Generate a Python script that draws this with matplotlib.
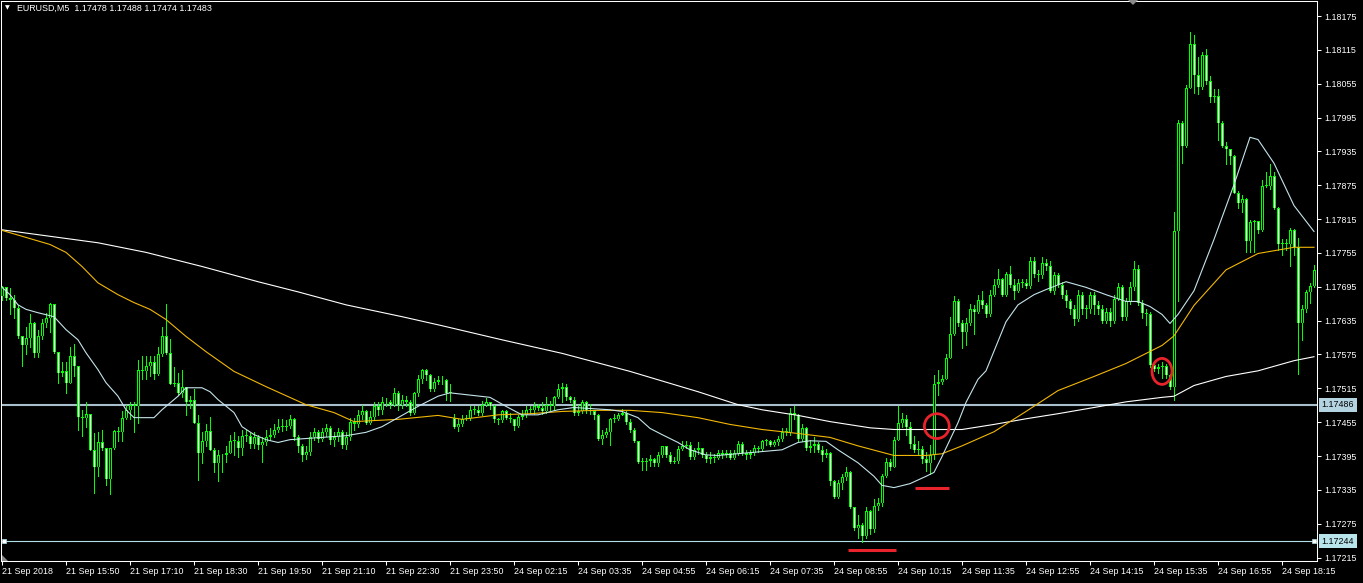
import numpy as np
import matplotlib
matplotlib.use("Agg")
import matplotlib.pyplot as plt
from matplotlib.patches import Ellipse, Polygon
from matplotlib.transforms import blended_transform_factory

plt.rcParams['font.family'] = ['Liberation Sans', 'DejaVu Sans']

# ---- data (EURUSD, M5) ----
symbol = "EURUSD,M5"
header_quote = "1.17478 1.17488 1.17474 1.17483"

first_open = 1.17679
monday_bar = 113          # first bar after the weekend gap
monday_open = 1.17463

close = [
    1.17694, 1.17676, 1.17672, 1.17658, 1.17607, 1.17591, 1.17605, 1.17630, 1.17578, 1.17607,
    1.17630, 1.17640, 1.17665, 1.17580, 1.17543, 1.17545, 1.17525, 1.17573, 1.17554, 1.17465,
    1.17463, 1.17470, 1.17406, 1.17375, 1.17419, 1.17410, 1.17355, 1.17410, 1.17440, 1.17438,
    1.17463, 1.17476, 1.17486, 1.17483, 1.17548, 1.17546, 1.17554, 1.17562, 1.17541, 1.17575,
    1.17607, 1.17578, 1.17523, 1.17525, 1.17507, 1.17518, 1.17491, 1.17495, 1.17454, 1.17401,
    1.17421, 1.17440, 1.17406, 1.17383, 1.17397, 1.17396, 1.17401, 1.17422, 1.17422, 1.17410,
    1.17431, 1.17431, 1.17417, 1.17429, 1.17415, 1.17419, 1.17429, 1.17433, 1.17442, 1.17447,
    1.17447, 1.17449, 1.17461, 1.17429, 1.17412, 1.17397, 1.17403, 1.17429, 1.17437, 1.17426,
    1.17437, 1.17445, 1.17424, 1.17428, 1.17437, 1.17415, 1.17429, 1.17456, 1.17451, 1.17468,
    1.17474, 1.17454, 1.17465, 1.17483, 1.17477, 1.17491, 1.17490, 1.17486, 1.17507, 1.17486,
    1.17495, 1.17490, 1.17472, 1.17506, 1.17531, 1.17548, 1.17538, 1.17514, 1.17527, 1.17529,
    1.17529, 1.17507, 1.17509, 1.17447, 1.17452, 1.17461, 1.17463, 1.17477, 1.17477, 1.17472,
    1.17486, 1.17490, 1.17483, 1.17460, 1.17458, 1.17474, 1.17463, 1.17460, 1.17449, 1.17465,
    1.17468, 1.17476, 1.17477, 1.17483, 1.17481, 1.17474, 1.17486, 1.17484, 1.17499, 1.17513,
    1.17518, 1.17499, 1.17495, 1.17472, 1.17474, 1.17491, 1.17477, 1.17474, 1.17468, 1.17426,
    1.17433, 1.17437, 1.17460, 1.17460, 1.17468, 1.17472, 1.17456, 1.17442, 1.17421, 1.17385,
    1.17385, 1.17387, 1.17389, 1.17382, 1.17397, 1.17412, 1.17397, 1.17385, 1.17387, 1.17408,
    1.17413, 1.17415, 1.17394, 1.17405, 1.17410, 1.17397, 1.17389, 1.17394, 1.17392, 1.17401,
    1.17397, 1.17401, 1.17392, 1.17401, 1.17417, 1.17401, 1.17396, 1.17401, 1.17410, 1.17408,
    1.17421, 1.17421, 1.17415, 1.17419, 1.17426, 1.17438, 1.17437, 1.17472, 1.17468, 1.17426,
    1.17444, 1.17410, 1.17412, 1.17417, 1.17406, 1.17397, 1.17401, 1.17350, 1.17323, 1.17348,
    1.17357, 1.17366, 1.17304, 1.17268, 1.17272, 1.17254, 1.17297, 1.17265, 1.17307, 1.17311,
    1.17359, 1.17385, 1.17376, 1.17424, 1.17453, 1.17461, 1.17447, 1.17417, 1.17406, 1.17408,
    1.17389, 1.17383, 1.17396, 1.17523, 1.17527, 1.17532, 1.17569, 1.17612, 1.17670, 1.17630,
    1.17614, 1.17631, 1.17656, 1.17651, 1.17672, 1.17662, 1.17647, 1.17681, 1.17699, 1.17709,
    1.17681, 1.17718, 1.17699, 1.17688, 1.17702, 1.17701, 1.17697, 1.17741, 1.17717, 1.17715,
    1.17738, 1.17731, 1.17688, 1.17715, 1.17699, 1.17681, 1.17669, 1.17655, 1.17638, 1.17681,
    1.17656, 1.17655, 1.17681, 1.17663, 1.17656, 1.17635, 1.17651, 1.17635, 1.17674, 1.17694,
    1.17642, 1.17669, 1.17695, 1.17727, 1.17667, 1.17649, 1.17647, 1.17557, 1.17550, 1.17552,
    1.17554, 1.17539, 1.17518, 1.17793, 1.17986, 1.17945, 1.18048, 1.18126, 1.18071, 1.18050,
    1.18106, 1.18059, 1.18032, 1.18034, 1.17986, 1.17945, 1.17940, 1.17926, 1.17862, 1.17844,
    1.17850, 1.17777, 1.17809, 1.17811, 1.17795, 1.17874, 1.17874, 1.17892, 1.17835, 1.17770,
    1.17773, 1.17770, 1.17795, 1.17766, 1.17631, 1.17656, 1.17685, 1.17697, 1.17724,
]

high = [
    1.17697, 1.17695, 1.17692, 1.17681, 1.17663, 1.17608, 1.17623, 1.17646, 1.17633, 1.17619,
    1.17638, 1.17649, 1.17667, 1.17665, 1.17580, 1.17561, 1.17561, 1.17589, 1.17594, 1.17555,
    1.17477, 1.17490, 1.17468, 1.17435, 1.17438, 1.17442, 1.17410, 1.17410, 1.17442, 1.17447,
    1.17474, 1.17486, 1.17490, 1.17490, 1.17566, 1.17573, 1.17573, 1.17573, 1.17573, 1.17589,
    1.17623, 1.17665, 1.17603, 1.17552, 1.17543, 1.17548, 1.17518, 1.17502, 1.17513, 1.17468,
    1.17438, 1.17452, 1.17465, 1.17410, 1.17406, 1.17399, 1.17412, 1.17433, 1.17438, 1.17431,
    1.17442, 1.17442, 1.17435, 1.17438, 1.17433, 1.17428, 1.17442, 1.17444, 1.17451, 1.17461,
    1.17460, 1.17458, 1.17467, 1.17463, 1.17433, 1.17417, 1.17412, 1.17437, 1.17444, 1.17442,
    1.17445, 1.17452, 1.17449, 1.17437, 1.17445, 1.17442, 1.17437, 1.17463, 1.17463, 1.17477,
    1.17486, 1.17477, 1.17474, 1.17491, 1.17490, 1.17499, 1.17497, 1.17495, 1.17516, 1.17511,
    1.17504, 1.17502, 1.17495, 1.17509, 1.17538, 1.17550, 1.17550, 1.17541, 1.17534, 1.17536,
    1.17536, 1.17532, 1.17522, 1.17470, 1.17460, 1.17467, 1.17467, 1.17483, 1.17484, 1.17483,
    1.17493, 1.17497, 1.17491, 1.17486, 1.17463, 1.17477, 1.17477, 1.17472, 1.17461, 1.17468,
    1.17476, 1.17483, 1.17484, 1.17490, 1.17488, 1.17490, 1.17499, 1.17493, 1.17502, 1.17522,
    1.17525, 1.17523, 1.17502, 1.17499, 1.17486, 1.17495, 1.17493, 1.17488, 1.17477, 1.17470,
    1.17442, 1.17445, 1.17463, 1.17470, 1.17472, 1.17479, 1.17474, 1.17460, 1.17445, 1.17422,
    1.17392, 1.17392, 1.17397, 1.17392, 1.17403, 1.17413, 1.17412, 1.17403, 1.17394, 1.17413,
    1.17421, 1.17421, 1.17419, 1.17410, 1.17419, 1.17406, 1.17403, 1.17403, 1.17399, 1.17406,
    1.17405, 1.17406, 1.17405, 1.17406, 1.17421, 1.17419, 1.17406, 1.17406, 1.17415, 1.17413,
    1.17424, 1.17426, 1.17424, 1.17424, 1.17431, 1.17444, 1.17444, 1.17481, 1.17483, 1.17470,
    1.17452, 1.17447, 1.17424, 1.17428, 1.17419, 1.17412, 1.17408, 1.17403, 1.17353, 1.17353,
    1.17364, 1.17375, 1.17369, 1.17304, 1.17291, 1.17277, 1.17304, 1.17300, 1.17318, 1.17320,
    1.17364, 1.17392, 1.17390, 1.17428, 1.17483, 1.17472, 1.17467, 1.17456, 1.17431, 1.17421,
    1.17413, 1.17403, 1.17415, 1.17539, 1.17548, 1.17539, 1.17575, 1.17642, 1.17678, 1.17674,
    1.17637, 1.17640, 1.17665, 1.17663, 1.17681, 1.17688, 1.17667, 1.17690, 1.17708, 1.17727,
    1.17711, 1.17722, 1.17732, 1.17709, 1.17709, 1.17709, 1.17708, 1.17747, 1.17747, 1.17725,
    1.17747, 1.17745, 1.17740, 1.17722, 1.17720, 1.17704, 1.17690, 1.17674, 1.17662, 1.17690,
    1.17685, 1.17663, 1.17686, 1.17686, 1.17669, 1.17662, 1.17658, 1.17658, 1.17681, 1.17702,
    1.17699, 1.17676, 1.17704, 1.17740, 1.17734, 1.17672, 1.17655, 1.17651, 1.17559, 1.17559,
    1.17561, 1.17559, 1.17541, 1.17827, 1.17990, 1.17988, 1.18053, 1.18147, 1.18142, 1.18103,
    1.18112, 1.18117, 1.18068, 1.18045, 1.18046, 1.17988, 1.17951, 1.17940, 1.17929, 1.17864,
    1.17857, 1.17853, 1.17814, 1.17814, 1.17811, 1.17885, 1.17899, 1.17913, 1.17899, 1.17837,
    1.17779, 1.17779, 1.17800, 1.17798, 1.17782, 1.17663, 1.17690, 1.17702, 1.17734,
]

low = [
    1.17671, 1.17672, 1.17647, 1.17640, 1.17605, 1.17554, 1.17575, 1.17589, 1.17571, 1.17571,
    1.17603, 1.17624, 1.17614, 1.17578, 1.17525, 1.17536, 1.17507, 1.17525, 1.17536, 1.17442,
    1.17431, 1.17447, 1.17406, 1.17330, 1.17359, 1.17406, 1.17344, 1.17327, 1.17408, 1.17422,
    1.17422, 1.17460, 1.17460, 1.17437, 1.17454, 1.17531, 1.17531, 1.17536, 1.17531, 1.17539,
    1.17573, 1.17576, 1.17522, 1.17520, 1.17504, 1.17499, 1.17467, 1.17481, 1.17454, 1.17353,
    1.17383, 1.17412, 1.17405, 1.17366, 1.17350, 1.17367, 1.17385, 1.17401, 1.17397, 1.17394,
    1.17397, 1.17422, 1.17410, 1.17410, 1.17408, 1.17385, 1.17415, 1.17424, 1.17429, 1.17437,
    1.17440, 1.17442, 1.17445, 1.17424, 1.17403, 1.17387, 1.17389, 1.17397, 1.17424, 1.17419,
    1.17422, 1.17431, 1.17417, 1.17413, 1.17422, 1.17410, 1.17408, 1.17424, 1.17442, 1.17447,
    1.17460, 1.17451, 1.17452, 1.17461, 1.17468, 1.17470, 1.17483, 1.17481, 1.17483, 1.17477,
    1.17481, 1.17484, 1.17468, 1.17470, 1.17502, 1.17525, 1.17529, 1.17511, 1.17511, 1.17522,
    1.17522, 1.17495, 1.17493, 1.17445, 1.17440, 1.17449, 1.17458, 1.17458, 1.17470, 1.17468,
    1.17468, 1.17483, 1.17479, 1.17456, 1.17452, 1.17456, 1.17460, 1.17456, 1.17442, 1.17447,
    1.17460, 1.17465, 1.17472, 1.17470, 1.17476, 1.17470, 1.17472, 1.17476, 1.17477, 1.17497,
    1.17491, 1.17495, 1.17491, 1.17468, 1.17468, 1.17472, 1.17472, 1.17470, 1.17460, 1.17424,
    1.17417, 1.17428, 1.17415, 1.17456, 1.17458, 1.17467, 1.17452, 1.17438, 1.17419, 1.17383,
    1.17371, 1.17371, 1.17378, 1.17378, 1.17378, 1.17394, 1.17394, 1.17382, 1.17382, 1.17383,
    1.17406, 1.17410, 1.17390, 1.17390, 1.17399, 1.17394, 1.17385, 1.17383, 1.17385, 1.17389,
    1.17392, 1.17394, 1.17389, 1.17389, 1.17396, 1.17397, 1.17389, 1.17392, 1.17397, 1.17403,
    1.17405, 1.17415, 1.17412, 1.17413, 1.17415, 1.17422, 1.17433, 1.17433, 1.17460, 1.17421,
    1.17422, 1.17406, 1.17403, 1.17403, 1.17403, 1.17387, 1.17394, 1.17344, 1.17321, 1.17321,
    1.17336, 1.17352, 1.17302, 1.17263, 1.17250, 1.17243, 1.17250, 1.17257, 1.17261, 1.17300,
    1.17307, 1.17357, 1.17371, 1.17375, 1.17424, 1.17447, 1.17433, 1.17410, 1.17403, 1.17396,
    1.17383, 1.17369, 1.17364, 1.17389, 1.17504, 1.17522, 1.17531, 1.17569, 1.17610, 1.17626,
    1.17587, 1.17591, 1.17628, 1.17612, 1.17649, 1.17658, 1.17642, 1.17644, 1.17678, 1.17695,
    1.17678, 1.17678, 1.17695, 1.17674, 1.17686, 1.17694, 1.17692, 1.17692, 1.17713, 1.17706,
    1.17711, 1.17725, 1.17685, 1.17683, 1.17694, 1.17676, 1.17660, 1.17646, 1.17628, 1.17635,
    1.17647, 1.17640, 1.17649, 1.17646, 1.17646, 1.17631, 1.17630, 1.17626, 1.17630, 1.17672,
    1.17637, 1.17637, 1.17665, 1.17690, 1.17662, 1.17640, 1.17628, 1.17552, 1.17545, 1.17543,
    1.17534, 1.17534, 1.17513, 1.17495, 1.17669, 1.17915, 1.17942, 1.18048, 1.18039, 1.18036,
    1.18046, 1.18055, 1.18023, 1.18023, 1.17956, 1.17942, 1.17912, 1.17912, 1.17862, 1.17835,
    1.17827, 1.17757, 1.17757, 1.17756, 1.17791, 1.17793, 1.17871, 1.17869, 1.17832, 1.17761,
    1.17752, 1.17761, 1.17731, 1.17752, 1.17540, 1.17601, 1.17651, 1.17667, 1.17694,
]

# moving averages, read at bar positions
fast_ma_bars = [0, 2, 4, 6, 9, 13, 16, 19, 21, 24, 26, 29, 31, 33, 38, 40, 44, 46, 50, 52,
                54, 58, 60, 63, 66, 69, 72, 80, 86, 91, 95, 99, 104, 109, 112, 122, 126, 130, 134, 139,
                143, 152, 155, 159, 162, 165, 169, 172, 176, 179, 187, 195, 199, 202, 206, 209, 214, 218, 220, 223,
                227, 231, 233, 235, 239, 241, 244, 246, 251, 254, 258, 261, 266, 271, 276, 281, 284, 287, 290, 292,
                294, 298, 303, 308, 312, 314, 318, 323, 328]
fast_ma = [1.17694, 1.17681, 1.17663, 1.17655, 1.17649, 1.17642, 1.17619, 1.17601, 1.17578, 1.17548,
           1.17525, 1.17501, 1.17477, 1.17463, 1.17463, 1.17477, 1.17501, 1.17516, 1.17516, 1.17509,
           1.17495, 1.17472, 1.17447, 1.17433, 1.17424, 1.17419, 1.17424, 1.17428, 1.17431, 1.17437,
           1.17447, 1.17463, 1.17483, 1.17501, 1.17507, 1.17499, 1.17483, 1.17468, 1.17468, 1.17477,
           1.17481, 1.17477, 1.17474, 1.17463, 1.17444, 1.17433, 1.17419, 1.17406, 1.17397, 1.17396,
           1.17401, 1.17406, 1.17419, 1.17422, 1.17421, 1.17406, 1.17383, 1.17359, 1.17343, 1.17339,
           1.17346, 1.17359, 1.17366, 1.17394, 1.17454, 1.17490, 1.17531, 1.17546, 1.17633, 1.17663,
           1.17681, 1.17690, 1.17704, 1.17694, 1.17681, 1.17669, 1.17669, 1.17660, 1.17646, 1.17630,
           1.17646, 1.17688, 1.17779, 1.17876, 1.17960, 1.17956, 1.17914, 1.17839, 1.17793]

mid_ma_bars = [0, 12, 16, 20, 24, 29, 33, 37, 41, 46, 51, 58, 66, 76, 83, 88, 99, 109, 115, 124,
               132, 140, 149, 157, 165, 174, 182, 190, 199, 207, 214, 223, 231, 235, 240, 248, 256, 264, 273, 281,
               290, 293, 298, 306, 314, 323, 328]
mid_ma = [1.17795, 1.17770, 1.17756, 1.17731, 1.17702, 1.17681, 1.17667, 1.17655, 1.17637, 1.17607,
          1.17580, 1.17545, 1.17518, 1.17486, 1.17472, 1.17456, 1.17460, 1.17467, 1.17460, 1.17468,
          1.17470, 1.17474, 1.17476, 1.17476, 1.17472, 1.17463, 1.17451, 1.17442, 1.17435, 1.17428,
          1.17413, 1.17396, 1.17396, 1.17399, 1.17413, 1.17438, 1.17474, 1.17511, 1.17536, 1.17559,
          1.17591, 1.17608, 1.17662, 1.17725, 1.17754, 1.17765, 1.17765]

slow_ma_bars = [0, 24, 36, 50, 64, 74, 86, 100, 110, 125, 140, 157, 174, 184, 190, 199, 207, 217, 223, 231,
                240, 248, 256, 264, 273, 281, 290, 293, 298, 306, 314, 323, 328]
slow_ma = [1.17796, 1.17773, 1.17756, 1.17731, 1.17704, 1.17686, 1.17663, 1.17642, 1.17626, 1.17601,
           1.17577, 1.17545, 1.17509, 1.17486, 1.17477, 1.17467, 1.17456, 1.17445, 1.17442, 1.17442,
           1.17442, 1.17451, 1.17461, 1.17470, 1.17481, 1.17491, 1.17499, 1.17501, 1.17520, 1.17536,
           1.17546, 1.17564, 1.17571]

price_ticks = [1.17215, 1.17275, 1.17335, 1.17395, 1.17455, 1.17515, 1.17575, 1.17635, 1.17695,
               1.17755, 1.17815, 1.17875, 1.17935, 1.17995, 1.18055, 1.18115, 1.18175]
bid_level = 1.17486
hline_level = 1.17244

time_tick_bars = [0, 16, 32, 48, 64, 80, 96, 112, 128, 144, 160, 176, 192, 208, 224, 240, 256, 272, 288, 304, 320]
time_labels = ["21 Sep 2018", "21 Sep 15:50", "21 Sep 17:10", "21 Sep 18:30", "21 Sep 19:50",
               "21 Sep 21:10", "21 Sep 22:30", "21 Sep 23:50", "24 Sep 02:15", "24 Sep 03:35",
               "24 Sep 04:55", "24 Sep 06:15", "24 Sep 07:35", "24 Sep 08:55", "24 Sep 10:15",
               "24 Sep 11:35", "24 Sep 12:55", "24 Sep 14:15", "24 Sep 15:35", "24 Sep 16:55",
               "24 Sep 18:15"]

# hand-drawn marks on the chart (bar, price, width in bars, height in price)
circles = [(233.7, 1.17448, 6.2, 0.00044), (290.0, 1.17545, 5.0, 0.00046)]
red_segments = [(211.5, 223.5, 1.17229), (228.2, 236.8, 1.17338)]

# ---- drawing ----
green = '#00FF00'
red = '#E8232B'
W, H = 1363, 583
px_price = 0.0006 / 33.85          # one screen pixel in price units

n = len(close)
x = np.arange(n)
c = np.array(close)
o = np.r_[first_open, c[:-1]]
o[monday_bar] = monday_open
hi = np.maximum(np.array(high), np.maximum(o, c))
lo = np.minimum(np.array(low), np.minimum(o, c))

fig = plt.figure(figsize=(W / 100, H / 100), dpi=100, facecolor='black')
ax = fig.add_axes([1 / W, 22 / H, 1316 / W, 560 / H], facecolor='black')
ax.set_xlim(-0.25, 328.75)
ax.set_ylim(1.172089, 1.182016)

# horizontal lines
ax.axhline(bid_level, color='#A9BFCE', lw=1.5, zorder=2)
ax.axhline(hline_level, color='#B0E0E6', lw=0.8, zorder=2)
ax.plot([0.5, 328.1], [hline_level, hline_level], 's', ms=2.6, mfc='white', mec='#B0E0E6',
        mew=0.5, zorder=6, clip_on=False)

# candles: lime wick and outline, bull body black inside, bear body white inside
ax.vlines(x, lo, hi, color=green, lw=0.72, antialiased=False, zorder=3)
body_lo = np.minimum(o, c)
body_hi = np.maximum(o, c)
ax.bar(x, np.maximum(body_hi - body_lo, px_price * 0.9), bottom=body_lo, width=0.75,
       color=green, linewidth=0, antialiased=False, zorder=4)
inner = (body_hi - body_lo) > 2.2 * px_price
fill = np.where(c >= o, 'black', 'white')
ax.vlines(x[inner], body_lo[inner] + px_price, body_hi[inner] - px_price,
          colors=list(fill[inner]), lw=0.72, antialiased=False, zorder=5)

# moving averages
ax.plot(slow_ma_bars, slow_ma, color='white', lw=0.8, zorder=6)
ax.plot(mid_ma_bars, mid_ma, color='#F2B705', lw=0.8, zorder=6)
ax.plot(fast_ma_bars, fast_ma, color='#C4E4EA', lw=0.8, zorder=6)

# user drawings
for bx, py, bw, ph in circles:
    ax.add_patch(Ellipse((bx, py), bw, ph, fill=False, ec=red, lw=2.0, zorder=7))
for x0, x1, py in red_segments:
    ax.hlines(py, x0, x1, color=red, lw=2.2, zorder=7)

# axes styling
for s in ax.spines.values():
    s.set_color('white')
    s.set_linewidth(0.75)

ax.yaxis.tick_right()
ax.set_yticks(price_ticks)
ax.set_yticklabels([f"{p:.5f}" for p in price_ticks])
ax.set_xticks(time_tick_bars)
ax.set_xticklabels(time_labels, ha='left')
ax.tick_params(axis='y', colors='white', length=2.9, width=0.75, pad=2.2, labelsize=6.4)
ax.tick_params(axis='x', colors='white', length=2.9, width=0.75, pad=1.6, labelsize=6.4)

trans = blended_transform_factory(ax.transAxes, ax.transData)
ax.text(1.0035, bid_level, f"{bid_level:.5f}", transform=trans, ha='left', va='center',
        fontsize=6.4, color='black', clip_on=False, zorder=10,
        bbox=dict(boxstyle='square,pad=0.28', fc='#B4D3E1', ec='none'))
ax.text(1.0035, hline_level, f"{hline_level:.5f}", transform=trans, ha='left', va='center',
        fontsize=6.4, color='black', clip_on=False, zorder=10,
        bbox=dict(boxstyle='square,pad=0.28', fc='#B8E4EC', ec='none'))

# header text
fig.text(17 / W, 1 - 8.5 / H, f"{symbol}  {header_quote}", color='white', fontsize=6.4,
         ha='left', va='center')
fig.text(7.5 / W, 1 - 8 / H, '\u25BC', family='DejaVu Sans', color='white', fontsize=4.5,
         ha='center', va='center')

# small grey markers of the terminal (shift marker on top, scroll marker bottom-left)
fig.add_artist(Polygon([(1128 / W, 1), (1138 / W, 1), (1133 / W, 1 - 5 / H)],
                       closed=True, transform=fig.transFigure, fc='#8A8A8A', ec='none'))
fig.add_artist(Polygon([(2 / W, 28 / H), (2 / W, 22 / H), (8 / W, 22 / H)],
                       closed=True, transform=fig.transFigure, fc='#8A8A8A', ec='none'))

fig.savefig('out.png', dpi=100, facecolor='black')
